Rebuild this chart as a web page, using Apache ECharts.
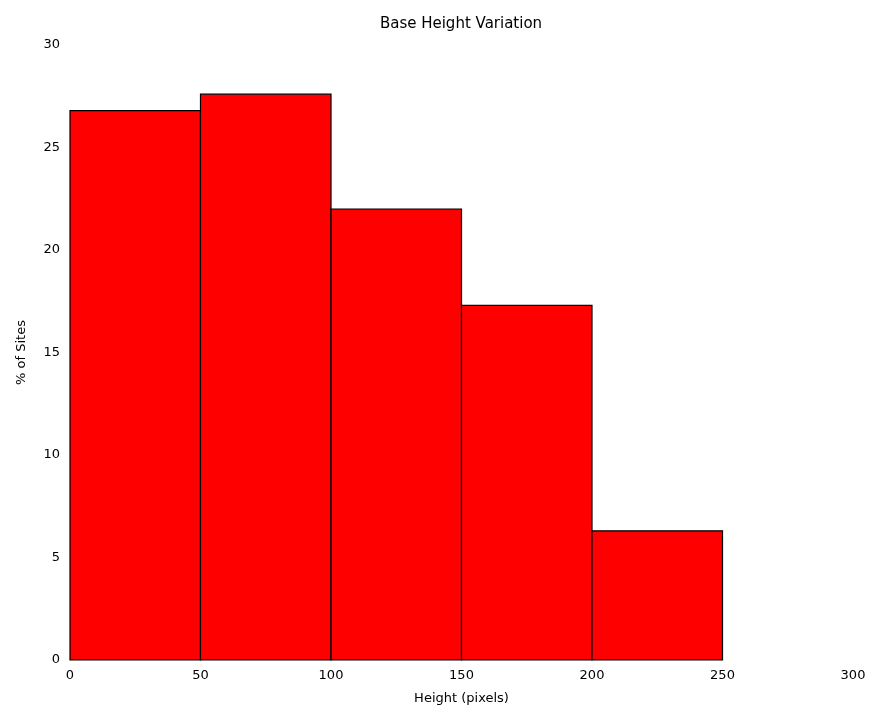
<!DOCTYPE html>
<html>
<head>
<meta charset="utf-8">
<script src="https://cdn.jsdelivr.net/npm/echarts@6/dist/echarts.min.js"></script>
<style>
  html, body { margin: 0; padding: 0; background: #fff; }
  #chart { width: 871px; height: 713px; }
</style>
</head>
<body>
<div id="chart"></div>
<script>
// Histogram bins (pixel height ranges) and share of sites per bin
const binStarts = [0, 50, 100, 150, 200];
const binWidth = 50;
const percentages = [26.8, 27.6, 22.0, 17.3, 6.3];
const xTicks = [0, 50, 100, 150, 200, 250, 300];
const yTicks = [0, 5, 10, 15, 20, 25, 30];

const chart = echarts.init(document.getElementById('chart'));

const data = binStarts.map((s, i) => [s, s + binWidth, percentages[i]]);

chart.setOption({
  animation: false,
  title: {
    text: 'Base Height Variation',
    left: 456,
    top: 12,
    textAlign: 'center',
    textStyle: { fontFamily: 'DejaVu Sans', fontSize: 15, fontWeight: 'normal', color: '#000' }
  },
  grid: { left: 70, right: 18, top: 45, bottom: 53 },
  xAxis: {
    type: 'value',
    min: xTicks[0],
    max: xTicks[xTicks.length - 1],
    interval: 50,
    name: 'Height (pixels)',
    nameLocation: 'middle',
    nameGap: 32,
    nameTextStyle: { fontFamily: 'DejaVu Sans', fontSize: 13, color: '#000' },
    axisLine: { show: false },
    axisTick: { show: false },
    splitLine: { show: false },
    axisLabel: { fontFamily: 'DejaVu Sans', fontSize: 13, color: '#000', margin: 9 }
  },
  yAxis: {
    type: 'value',
    min: yTicks[0],
    max: yTicks[yTicks.length - 1],
    interval: 5,
    name: '% of Sites',
    nameLocation: 'middle',
    nameGap: 42,
    nameTextStyle: { fontFamily: 'DejaVu Sans', fontSize: 13, color: '#000' },
    axisLine: { show: false },
    axisTick: { show: false },
    splitLine: { show: false },
    axisLabel: { fontFamily: 'DejaVu Sans', fontSize: 13, color: '#000', margin: 10 }
  },
  series: [{
    type: 'custom',
    data: data,
    encode: { x: [0, 1], y: 2 },
    renderItem: function (params, api) {
      const p0 = api.coord([api.value(0), api.value(2)]);
      const p1 = api.coord([api.value(1), 0]);
      return {
        type: 'rect',
        shape: { x: p0[0], y: p0[1], width: p1[0] - p0[0], height: p1[1] - p0[1] },
        style: { fill: '#ff0000', stroke: '#000', lineWidth: 1.2 }
      };
    }
  }]
});
</script>
</body>
</html>
